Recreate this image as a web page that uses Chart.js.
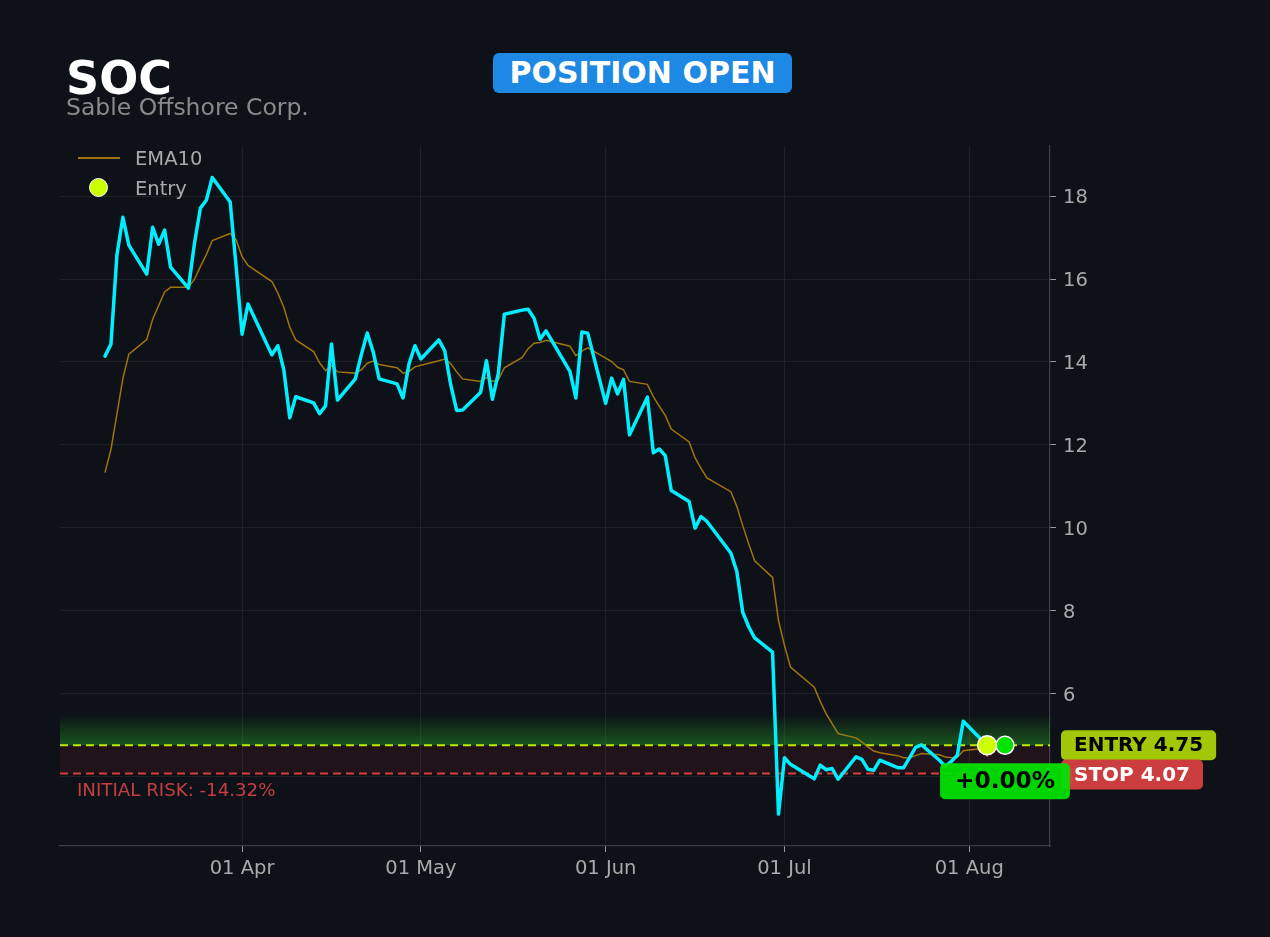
<!DOCTYPE html>
<html>
<head>
<meta charset="utf-8">
<title>SOC - Sable Offshore Corp.</title>
<script src="https://cdn.jsdelivr.net/npm/chart.js@4.4.1/dist/chart.umd.min.js"></script>
<style>
  html, body { margin: 0; padding: 0; background: #0e1117; }
  body { width: 1270px; height: 937px; overflow: hidden; position: relative; font-family: "DejaVu Sans", sans-serif; }
  #chart { position: absolute; left: 0; top: 0; }
  .ticker { position: absolute; left: 66px; top: 55px; font-size: 46px; line-height: 46px; font-weight: bold; color: #ffffff; }
  .name { position: absolute; left: 66px; top: 96px; font-size: 23.5px; line-height: 23.5px; color: #8a8a8a; }
  .badge { position: absolute; left: 493px; top: 53px; width: 299px; height: 40px; line-height: 40px; background: #1e88e5;
           color: #ffffff; border-radius: 6px; font-weight: bold; font-size: 30px; text-align: center; }
  .legend { position: absolute; left: 78px; top: 143px; color: #a9a9a9; font-size: 19.5px; }
  .legend .row { height: 30px; display: flex; align-items: center; }
  .legend .swatch { width: 42px; height: 30px; position: relative; margin-right: 15px; }
  .legend .line { position: absolute; left: 0; right: 0; top: 14px; height: 2px; background: rgba(184,134,11,0.85); }
  .legend .dot { position: absolute; left: 11px; top: 5px; width: 17px; height: 17px; border-radius: 50%;
                 background: #ccff00; border: 1.5px solid #ffffff; }
</style>
</head>
<body>
<canvas id="chart" width="1270" height="937"></canvas>
<div class="ticker">SOC</div>
<div class="name">Sable Offshore Corp.</div>
<div class="badge">POSITION OPEN</div>
<div class="legend">
  <div class="row"><div class="swatch"><div class="line"></div></div>EMA10</div>
  <div class="row"><div class="swatch"><div class="dot"></div></div>Entry</div>
</div>
<script>
// trading days (2026)
const dates = [
  '2026-03-09', '2026-03-10', '2026-03-11', '2026-03-12', '2026-03-13',
  '2026-03-16', '2026-03-17', '2026-03-18', '2026-03-19', '2026-03-20',
  '2026-03-23', '2026-03-24', '2026-03-25', '2026-03-26', '2026-03-27',
  '2026-03-30', '2026-03-31', '2026-04-01', '2026-04-02',
  '2026-04-06', '2026-04-07', '2026-04-08', '2026-04-09', '2026-04-10',
  '2026-04-13', '2026-04-14', '2026-04-15', '2026-04-16', '2026-04-17',
  '2026-04-20', '2026-04-21', '2026-04-22', '2026-04-23', '2026-04-24',
  '2026-04-27', '2026-04-28', '2026-04-29', '2026-04-30', '2026-05-01',
  '2026-05-04', '2026-05-05', '2026-05-06', '2026-05-07', '2026-05-08',
  '2026-05-11', '2026-05-12', '2026-05-13', '2026-05-14', '2026-05-15',
  '2026-05-18', '2026-05-19', '2026-05-20', '2026-05-21', '2026-05-22',
  '2026-05-26', '2026-05-27', '2026-05-28', '2026-05-29',
  '2026-06-01', '2026-06-02', '2026-06-03', '2026-06-04', '2026-06-05',
  '2026-06-08', '2026-06-09', '2026-06-10', '2026-06-11', '2026-06-12',
  '2026-06-15', '2026-06-16', '2026-06-17', '2026-06-18',
  '2026-06-22', '2026-06-23', '2026-06-24', '2026-06-25', '2026-06-26',
  '2026-06-29', '2026-06-30', '2026-07-01', '2026-07-02',
  '2026-07-06', '2026-07-07', '2026-07-08', '2026-07-09', '2026-07-10',
  '2026-07-13', '2026-07-14', '2026-07-15', '2026-07-16', '2026-07-17',
  '2026-07-20', '2026-07-21', '2026-07-22', '2026-07-23', '2026-07-24',
  '2026-07-27', '2026-07-28', '2026-07-29', '2026-07-30', '2026-07-31',
  '2026-08-03', '2026-08-04'
];

const closes = [
  14.14, 14.43, 16.58, 17.49, 16.82,
  16.12, 17.25, 16.84, 17.18, 16.29,
  15.78, 16.85, 17.71, 17.90, 18.45,
  17.86, 16.30, 14.67, 15.40,
  14.17, 14.39, 13.81, 12.65, 13.16,
  13.01, 12.75, 12.94, 14.43, 13.08,
  13.59, 14.17, 14.70, 14.24, 13.59,
  13.47, 13.13, 13.95, 14.39, 14.07,
  14.53, 14.27, 13.45, 12.83, 12.84,
  13.26, 14.03, 13.10, 13.73, 15.15,
  15.25, 15.27, 15.05, 14.55, 14.75,
  13.77, 13.13, 14.72, 14.69,
  13.00, 13.61, 13.23, 13.58, 12.24,
  13.15, 11.81, 11.90, 11.74, 10.90,
  10.63, 9.99, 10.27, 10.15,
  9.39, 8.95, 7.96, 7.61, 7.34,
  7.00, 3.09, 4.45, 4.29,
  3.94, 4.27, 4.16, 4.19, 3.93,
  4.47, 4.41, 4.17, 4.15, 4.39,
  4.21, 4.21, 4.45, 4.70, 4.76,
  4.39, 4.24, 4.36, 4.51, 5.33,
  4.89, 4.75
];

const ema10 = [
  11.33, 11.89, 12.74, 13.60, 14.19,
  14.54, 15.03, 15.36, 15.69, 15.80,
  15.80, 15.99, 16.30, 16.59, 16.93,
  17.10, 16.95, 16.54, 16.33,
  15.94, 15.66, 15.32, 14.84, 14.53,
  14.25, 13.98, 13.79, 13.91, 13.76,
  13.73, 13.81, 13.97, 14.02, 13.94,
  13.86, 13.73, 13.77, 13.88, 13.92,
  14.03, 14.07, 13.96, 13.76, 13.59,
  13.53, 13.62, 13.53, 13.57, 13.86,
  14.11, 14.32, 14.45, 14.47, 14.52,
  14.38, 14.15, 14.26, 14.34,
  14.09, 14.01, 13.87, 13.81, 13.53,
  13.46, 13.16, 12.93, 12.71, 12.38,
  12.07, 11.69, 11.43, 11.20,
  10.87, 10.52, 10.05, 9.61, 9.20,
  8.80, 7.76, 7.16, 6.64,
  6.15, 5.81, 5.51, 5.27, 5.03,
  4.93, 4.83, 4.71, 4.61, 4.57,
  4.50, 4.45, 4.45, 4.50, 4.55,
  4.52, 4.47, 4.45, 4.46, 4.62,
  4.67, 4.68
];

const entryDate = '2026-08-04';
const entryPrice = 4.75;
const stopPrice = 4.07;
const currentDate = '2026-08-07';
const currentPrice = 4.75;
const stopMarkPrice = 4.60;
const glowTopPrice = 5.50;

const xTickDates = ['2026-04-01', '2026-05-01', '2026-06-01', '2026-07-01', '2026-08-01'];
const xTickLabels = ['01 Apr', '01 May', '01 Jun', '01 Jul', '01 Aug'];
const yTicks = [4, 6, 8, 10, 12, 14, 16, 18];

const DAY = 86400000;
const day0 = Date.UTC(2026, 0, 1);
function dayNum(s) {
  const [y, m, d] = s.split('-').map(Number);
  return (Date.UTC(y, m - 1, d) - day0) / DAY;
}
const xTickDays = xTickDates.map(dayNum);

const FONT = '"DejaVu Sans", sans-serif';

function box(ctx, x, y, w, h, r, fill) {
  ctx.beginPath();
  if (ctx.roundRect) ctx.roundRect(x, y, w, h, r);
  else ctx.rect(x, y, w, h);
  ctx.fillStyle = fill;
  ctx.fill();
}

function tag(ctx, text, x, yMid, size, padX, h, bg, fg, centered) {
  ctx.font = 'bold ' + size + 'px ' + FONT;
  const w = ctx.measureText(text).width + padX * 2;
  const left = centered ? x - w / 2 : x;
  box(ctx, left, yMid - h / 2, w, h, 5, bg);
  ctx.fillStyle = fg;
  ctx.textAlign = 'left';
  ctx.textBaseline = 'middle';
  ctx.fillText(text, left + padX, yMid + 1);
}

// risk zones and entry / stop lines under the price line
const zones = {
  id: 'zones',
  beforeDatasetsDraw(chart) {
    const { ctx, chartArea: a, scales: { y } } = chart;
    const yE = y.getPixelForValue(entryPrice);
    const yS = y.getPixelForValue(stopPrice);
    const yG = y.getPixelForValue(glowTopPrice);
    ctx.save();
    const g = ctx.createLinearGradient(0, yG, 0, yE);
    g.addColorStop(0, 'rgba(40,170,40,0)');
    g.addColorStop(1, 'rgba(40,170,40,0.45)');
    ctx.fillStyle = g;
    ctx.fillRect(a.left, yG, a.right - a.left, yE - yG);
    ctx.fillStyle = 'rgba(200,40,50,0.10)';
    ctx.fillRect(a.left, yE, a.right - a.left, yS - yE);

    ctx.lineWidth = 2;
    ctx.setLineDash([8, 5]);
    ctx.strokeStyle = 'rgba(204,240,0,0.95)';
    ctx.beginPath(); ctx.moveTo(a.left, yE); ctx.lineTo(a.right, yE); ctx.stroke();
    ctx.strokeStyle = 'rgba(225,65,65,0.95)';
    ctx.beginPath(); ctx.moveTo(a.left, yS); ctx.lineTo(a.right, yS); ctx.stroke();
    ctx.restore();
  },
  afterDraw(chart) {
    const { ctx, chartArea: a, scales: { x, y } } = chart;
    const yE = y.getPixelForValue(entryPrice);
    const yS = y.getPixelForValue(stopPrice);
    ctx.save();
    tag(ctx, 'ENTRY ' + entryPrice.toFixed(2), a.right + 11, yE, 20, 13, 30, 'rgba(170,210,5,0.95)', '#000000');
    tag(ctx, 'STOP ' + stopPrice.toFixed(2), a.right + 11, yS + 1, 20, 13, 30, 'rgba(214,64,64,0.95)', '#ffffff');

    const risk = (stopPrice - entryPrice) / entryPrice * 100;
    ctx.font = '18.2px ' + FONT;
    ctx.fillStyle = 'rgb(196,62,66)';
    ctx.textAlign = 'left';
    ctx.textBaseline = 'middle';
    ctx.fillText('INITIAL RISK: ' + risk.toFixed(2) + '%', a.left + 17, yS + 18);

    const pnl = (currentPrice - entryPrice) / entryPrice * 100;
    const xc = x.getPixelForValue(dayNum(currentDate));
    const yc = y.getPixelForValue(currentPrice);
    tag(ctx, (pnl >= 0 ? '+' : '') + pnl.toFixed(2) + '%', xc, yc + 36, 23.2, 15, 36, 'rgba(0,228,0,0.93)', '#000000', true);
    ctx.restore();
  }
};

const pts = (vals) => vals.map((v, i) => ({ x: dayNum(dates[i]), y: v }));

new Chart(document.getElementById('chart'), {
  type: 'line',
  data: {
    datasets: [
      {
        label: 'Entry',
        data: [{ x: dayNum(entryDate), y: entryPrice }],
        showLine: false,
        pointRadius: 9.5,
        pointBackgroundColor: '#ccff00',
        pointBorderColor: '#ffffff',
        pointBorderWidth: 1.5
      },
      {
        label: 'Current',
        data: [{ x: dayNum(currentDate), y: currentPrice }],
        showLine: false,
        pointRadius: 9,
        pointBackgroundColor: '#00e400',
        pointBorderColor: '#ffffff',
        pointBorderWidth: 1.5
      },
      {
        label: 'Stop mark',
        data: [{ x: dayNum(entryDate), y: stopMarkPrice }],
        showLine: false,
        pointStyle: 'triangle',
        rotation: 180,
        pointRadius: 6,
        pointBackgroundColor: 'rgba(235,90,90,0.9)',
        pointBorderWidth: 0
      },
      {
        label: 'Close',
        data: pts(closes),
        borderColor: '#00eeff',
        borderWidth: 3.5,
        borderJoinStyle: 'round',
        borderCapStyle: 'round',
        pointRadius: 0,
        tension: 0
      },
      {
        label: 'EMA10',
        data: pts(ema10),
        borderColor: 'rgba(184,134,11,0.85)',
        borderWidth: 1.5,
        pointRadius: 0,
        tension: 0
      }
    ]
  },
  options: {
    responsive: false,
    animation: false,
    events: [],
    layout: { padding: { left: 60, top: 146, right: 0, bottom: 0 } },
    plugins: {
      legend: { display: false },
      tooltip: { enabled: false }
    },
    scales: {
      x: {
        type: 'linear',
        min: 59.45,
        max: 225.55,
        afterFit: (s) => { s.height = 91; },
        afterBuildTicks: (s) => { s.ticks = xTickDays.map(v => ({ value: v })); },
        ticks: {
          color: '#aaaaaa',
          font: { family: FONT, size: 19.5 },
          padding: 5,
          maxRotation: 0,
          autoSkip: false,
          callback: (v) => xTickLabels[xTickDays.indexOf(v)]
        },
        grid: { color: 'rgba(255,255,255,0.07)', tickColor: '#9a9a9a', tickLength: 6 },
        border: { color: '#3c3f45', width: 1.2 }
      },
      y: {
        position: 'right',
        min: 2.32,
        max: 19.21,
        afterFit: (s) => { s.width = 220; },
        afterBuildTicks: (s) => { s.ticks = yTicks.map(v => ({ value: v })); },
        ticks: {
          color: '#aaaaaa',
          font: { family: FONT, size: 19.5 },
          padding: 7,
          labelOffset: 2,
          autoSkip: false
        },
        grid: { color: 'rgba(255,255,255,0.07)', tickColor: '#9a9a9a', tickLength: 6 },
        border: { color: '#3c3f45', width: 1.2 }
      }
    }
  },
  plugins: [zones]
});
</script>
</body>
</html>
